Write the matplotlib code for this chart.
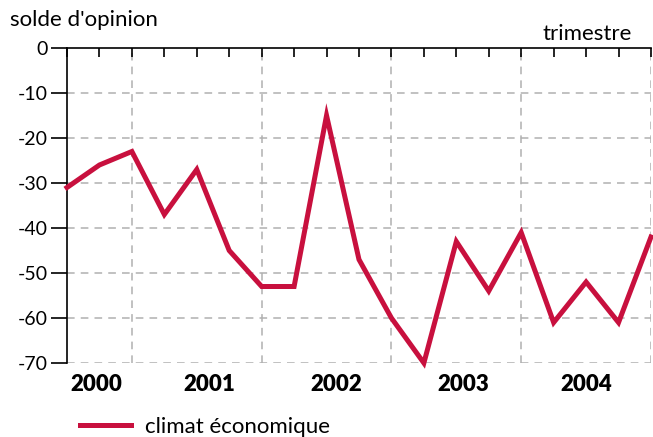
import matplotlib
matplotlib.use("Agg")
import matplotlib.pyplot as plt

# quarterly points, from 2000 to 2004
climat = [-31, -26, -23, -37, -27, -45, -53, -53, -15, -47,
          -60, -70, -43, -54, -41, -61, -52, -61, -42]
years = ['2000', '2001', '2002', '2003', '2004']
year_pos = [0.9, 4.4, 8.3, 12.2, 16.0]
year_bounds = [2, 6, 10, 14, 18]
yticks = [0, -10, -20, -30, -40, -50, -60, -70]

plt.rcParams['font.family'] = ['Lato', 'DejaVu Sans']

fig = plt.figure(figsize=(6.53, 4.37), dpi=100)
ax = fig.add_axes([0.1026, 0.1693, 0.8943, 0.7209])

x = list(range(len(climat)))
ax.plot(x, climat, color='#C8103E', lw=3.6, solid_joinstyle='miter', zorder=3,
        clip_on=False, label='climat économique')

ax.set_xlim(0, len(climat) - 1)
ax.set_ylim(-70, 0)

# grid
for v in yticks[1:]:
    ax.axhline(v, color='#b0b0b0', lw=1.1, ls=(0, (5, 4)), zorder=1)
for b in year_bounds:
    ax.axvline(b, color='#b0b0b0', lw=1.1, ls=(0, (5, 4)), zorder=1)

for s in ['bottom', 'right']:
    ax.spines[s].set_visible(False)
ax.spines['left'].set_linewidth(1.2)
ax.spines['top'].set_linewidth(1.2)

ax.set_yticks(yticks)
ax.set_yticklabels([str(v) for v in yticks], fontsize=14)
ax.tick_params(axis='y', direction='out', length=11.5, width=1.2, pad=2)

ax.xaxis.tick_top()
ax.set_xticks(x)
ax.set_xticklabels([])
ax.tick_params(axis='x', direction='in', length=6.5, width=1.2, top=True, bottom=False)

for lab, p in zip(years, year_pos):
    ax.text(p, -74.8, lab, ha='center', va='center', fontsize=16, fontweight='heavy')

fig.text(10 / 653, 1 - 20 / 437, "solde d'opinion", ha='left', va='center', fontsize=16)
fig.text(632 / 653, 1 - 34 / 437, 'trimestre', ha='right', va='center', fontsize=16)

ax.legend(loc='lower left', bbox_to_anchor=(78 / 653, -0.005), bbox_transform=fig.transFigure,
          frameon=False, fontsize=16, handlelength=2.3, handletextpad=0.6,
          borderaxespad=0.0, borderpad=0.1)

fig.savefig('out.png', dpi=100)
